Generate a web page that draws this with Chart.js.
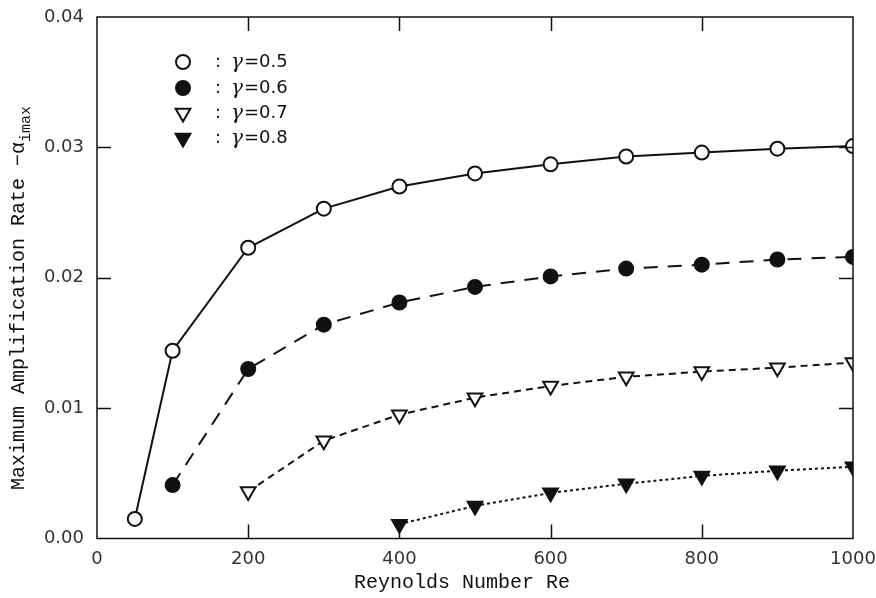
<!DOCTYPE html>
<html>
<head>
<meta charset="utf-8">
<script src="https://cdn.jsdelivr.net/npm/chart.js@4.4.1/dist/chart.umd.min.js"></script>
<style>
  html, body { margin: 0; padding: 0; background: #fff; }
  #wrap { width: 876px; height: 598px; position: relative; }
</style>
</head>
<body>
<div id="wrap"><canvas id="amp"></canvas></div>
<script>
/* ═══════════════════════════════════════════
   values
═══════════════════════════════════════════ */
const RE_G05  = [50, 100, 200, 300, 400, 500, 600, 700, 800, 900, 1000];
const AMP_G05 = [0.0015, 0.0144, 0.0223, 0.0253, 0.0270, 0.0280, 0.0287, 0.0293, 0.0296, 0.0299, 0.0301];

const RE_G06  = [100, 200, 300, 400, 500, 600, 700, 800, 900, 1000];
const AMP_G06 = [0.0041, 0.0130, 0.0164, 0.0181, 0.0193, 0.0201, 0.0207, 0.0210, 0.0214, 0.0216];

const RE_G07  = [200, 300, 400, 500, 600, 700, 800, 900, 1000];
const AMP_G07 = [0.0036, 0.0075, 0.0095, 0.0108, 0.0117, 0.0124, 0.0128, 0.0131, 0.0135];

const RE_G08  = [400, 500, 600, 700, 800, 900, 1000];
const AMP_G08 = [0.0011, 0.0025, 0.0035, 0.0042, 0.0048, 0.0052, 0.0055];

const GAMMAS = ['0.5', '0.6', '0.7', '0.8'];

const X_MIN = 0, X_MAX = 1000, X_STEP = 200;
const Y_MIN = 0, Y_MAX = 0.04, Y_STEP = 0.01;

const X_TITLE = 'Reynolds Number Re';
const Y_TITLE = 'Maximum Amplification Rate \u2212\u03b1';
const Y_TITLE_SUB = 'imax';

/* ═══════════════════════════════════════════ */

const INK = '#111';
const TICK = 14;
const TICK_FONT = { family: "'DejaVu Sans', sans-serif", size: 18 };
const TITLE_FONT = "20px 'Liberation Mono', monospace";

const pts = (xs, ys) => xs.map((x, i) => ({ x, y: ys[i] }));

const series = (xs, ys, style) => ({
  data: pts(xs, ys),
  borderColor: INK,
  borderWidth: 2,
  pointBorderColor: INK,
  pointBorderWidth: 2,
  tension: 0,
  ...style
});

const datasets = [
  series(RE_G05, AMP_G05, { label: GAMMAS[0], pointStyle: 'circle', pointRadius: 7, pointBackgroundColor: '#fff' }),
  series(RE_G06, AMP_G06, { label: GAMMAS[1], pointStyle: 'circle', pointRadius: 7, pointBackgroundColor: INK, borderDash: [14, 10] }),
  series(RE_G07, AMP_G07, { label: GAMMAS[2], pointStyle: 'triangle', pointRotation: 180, pointRadius: 8.5, pointBackgroundColor: '#fff', borderDash: [7, 5] }),
  series(RE_G08, AMP_G08, { label: GAMMAS[3], pointStyle: 'triangle', pointRotation: 180, pointRadius: 8.5, pointBackgroundColor: INK, borderDash: [3, 3] })
];

// keep the plot box where the figure has it: no auto padding from tick labels
const noPad = s => { s.paddingLeft = s.paddingRight = s.paddingTop = s.paddingBottom = 0; };

/* frame, inward ticks, axis titles and the legend box */
const decor = {
  id: 'decor',
  afterDraw(chart) {
    const { ctx, chartArea: a, scales: { x, y } } = chart;
    ctx.save();

    ctx.strokeStyle = INK;
    ctx.lineWidth = 1.5;
    ctx.strokeRect(a.left, a.top, a.right - a.left, a.bottom - a.top);
    ctx.beginPath();
    x.ticks.slice(1, -1).forEach(t => {
      const px = Math.round(x.getPixelForValue(t.value)) + 0.5;
      ctx.moveTo(px, a.bottom); ctx.lineTo(px, a.bottom - TICK);
      ctx.moveTo(px, a.top);    ctx.lineTo(px, a.top + TICK);
    });
    y.ticks.slice(1, -1).forEach(t => {
      const py = Math.round(y.getPixelForValue(t.value)) + 0.5;
      ctx.moveTo(a.left, py);  ctx.lineTo(a.left + TICK, py);
      ctx.moveTo(a.right, py); ctx.lineTo(a.right - TICK, py);
    });
    ctx.stroke();

    // axis titles
    ctx.fillStyle = INK;
    ctx.font = TITLE_FONT;
    ctx.textAlign = 'center';
    ctx.textBaseline = 'middle';
    ctx.fillText(X_TITLE, 462, 583);

    ctx.translate(19, 298);
    ctx.rotate(-Math.PI / 2);
    const w1 = ctx.measureText(Y_TITLE).width;
    ctx.font = "15px 'Liberation Mono', monospace";
    const w2 = ctx.measureText(Y_TITLE_SUB).width;
    const x0 = -(w1 + w2) / 2;
    ctx.textAlign = 'left';
    ctx.fillText(Y_TITLE_SUB, x0 + w1, 7);
    ctx.font = TITLE_FONT;
    ctx.fillText(Y_TITLE, x0, 0);
    ctx.setTransform(1, 0, 0, 1, 0, 0);

    // legend
    const rows = [62, 88, 113, 138];
    chart.data.datasets.forEach((ds, i) => {
      const ly = rows[i];
      ctx.fillStyle = ds.pointBackgroundColor;
      ctx.strokeStyle = INK;
      ctx.lineWidth = 2;
      Chart.helpers.drawPoint(ctx, {
        pointStyle: ds.pointStyle, rotation: ds.pointRotation || 0,
        radius: ds.pointRadius, borderWidth: 2
      }, 183, ly);

      ctx.fillStyle = INK;
      ctx.textAlign = 'left';
      ctx.textBaseline = 'middle';
      ctx.font = "18px 'DejaVu Sans', sans-serif";
      ctx.fillText(':', 215, ly);
      ctx.font = "italic 20px 'DejaVu Serif', serif";
      ctx.fillText('\u03b3', 231, ly + 1);
      ctx.font = "18px 'DejaVu Sans', sans-serif";
      ctx.fillText('=' + ds.label, 244, ly);
    });

    ctx.restore();
  }
};

new Chart(document.getElementById('amp'), {
  type: 'line',
  data: { datasets },
  options: {
    responsive: true,
    maintainAspectRatio: false,
    animation: false,
    layout: { padding: { top: 17, right: 23, left: 0, bottom: 0 } },
    plugins: { legend: { display: false }, tooltip: { enabled: false } },
    scales: {
      x: {
        type: 'linear', min: X_MIN, max: X_MAX,
        ticks: { stepSize: X_STEP, color: '#333', font: TICK_FONT, padding: 10, maxRotation: 0,
                 callback: v => String(v) },
        grid: { display: false, drawTicks: false },
        border: { display: false },
        afterFit: s => { s.height = 59.5; noPad(s); }
      },
      y: {
        type: 'linear', min: Y_MIN, max: Y_MAX,
        ticks: { stepSize: Y_STEP, color: '#333', font: TICK_FONT, padding: 13,
                 callback: v => v.toFixed(2) },
        grid: { display: false, drawTicks: false },
        border: { display: false },
        afterFit: s => { s.width = 97; noPad(s); }
      }
    }
  },
  plugins: [decor]
});
</script>
</body>
</html>
